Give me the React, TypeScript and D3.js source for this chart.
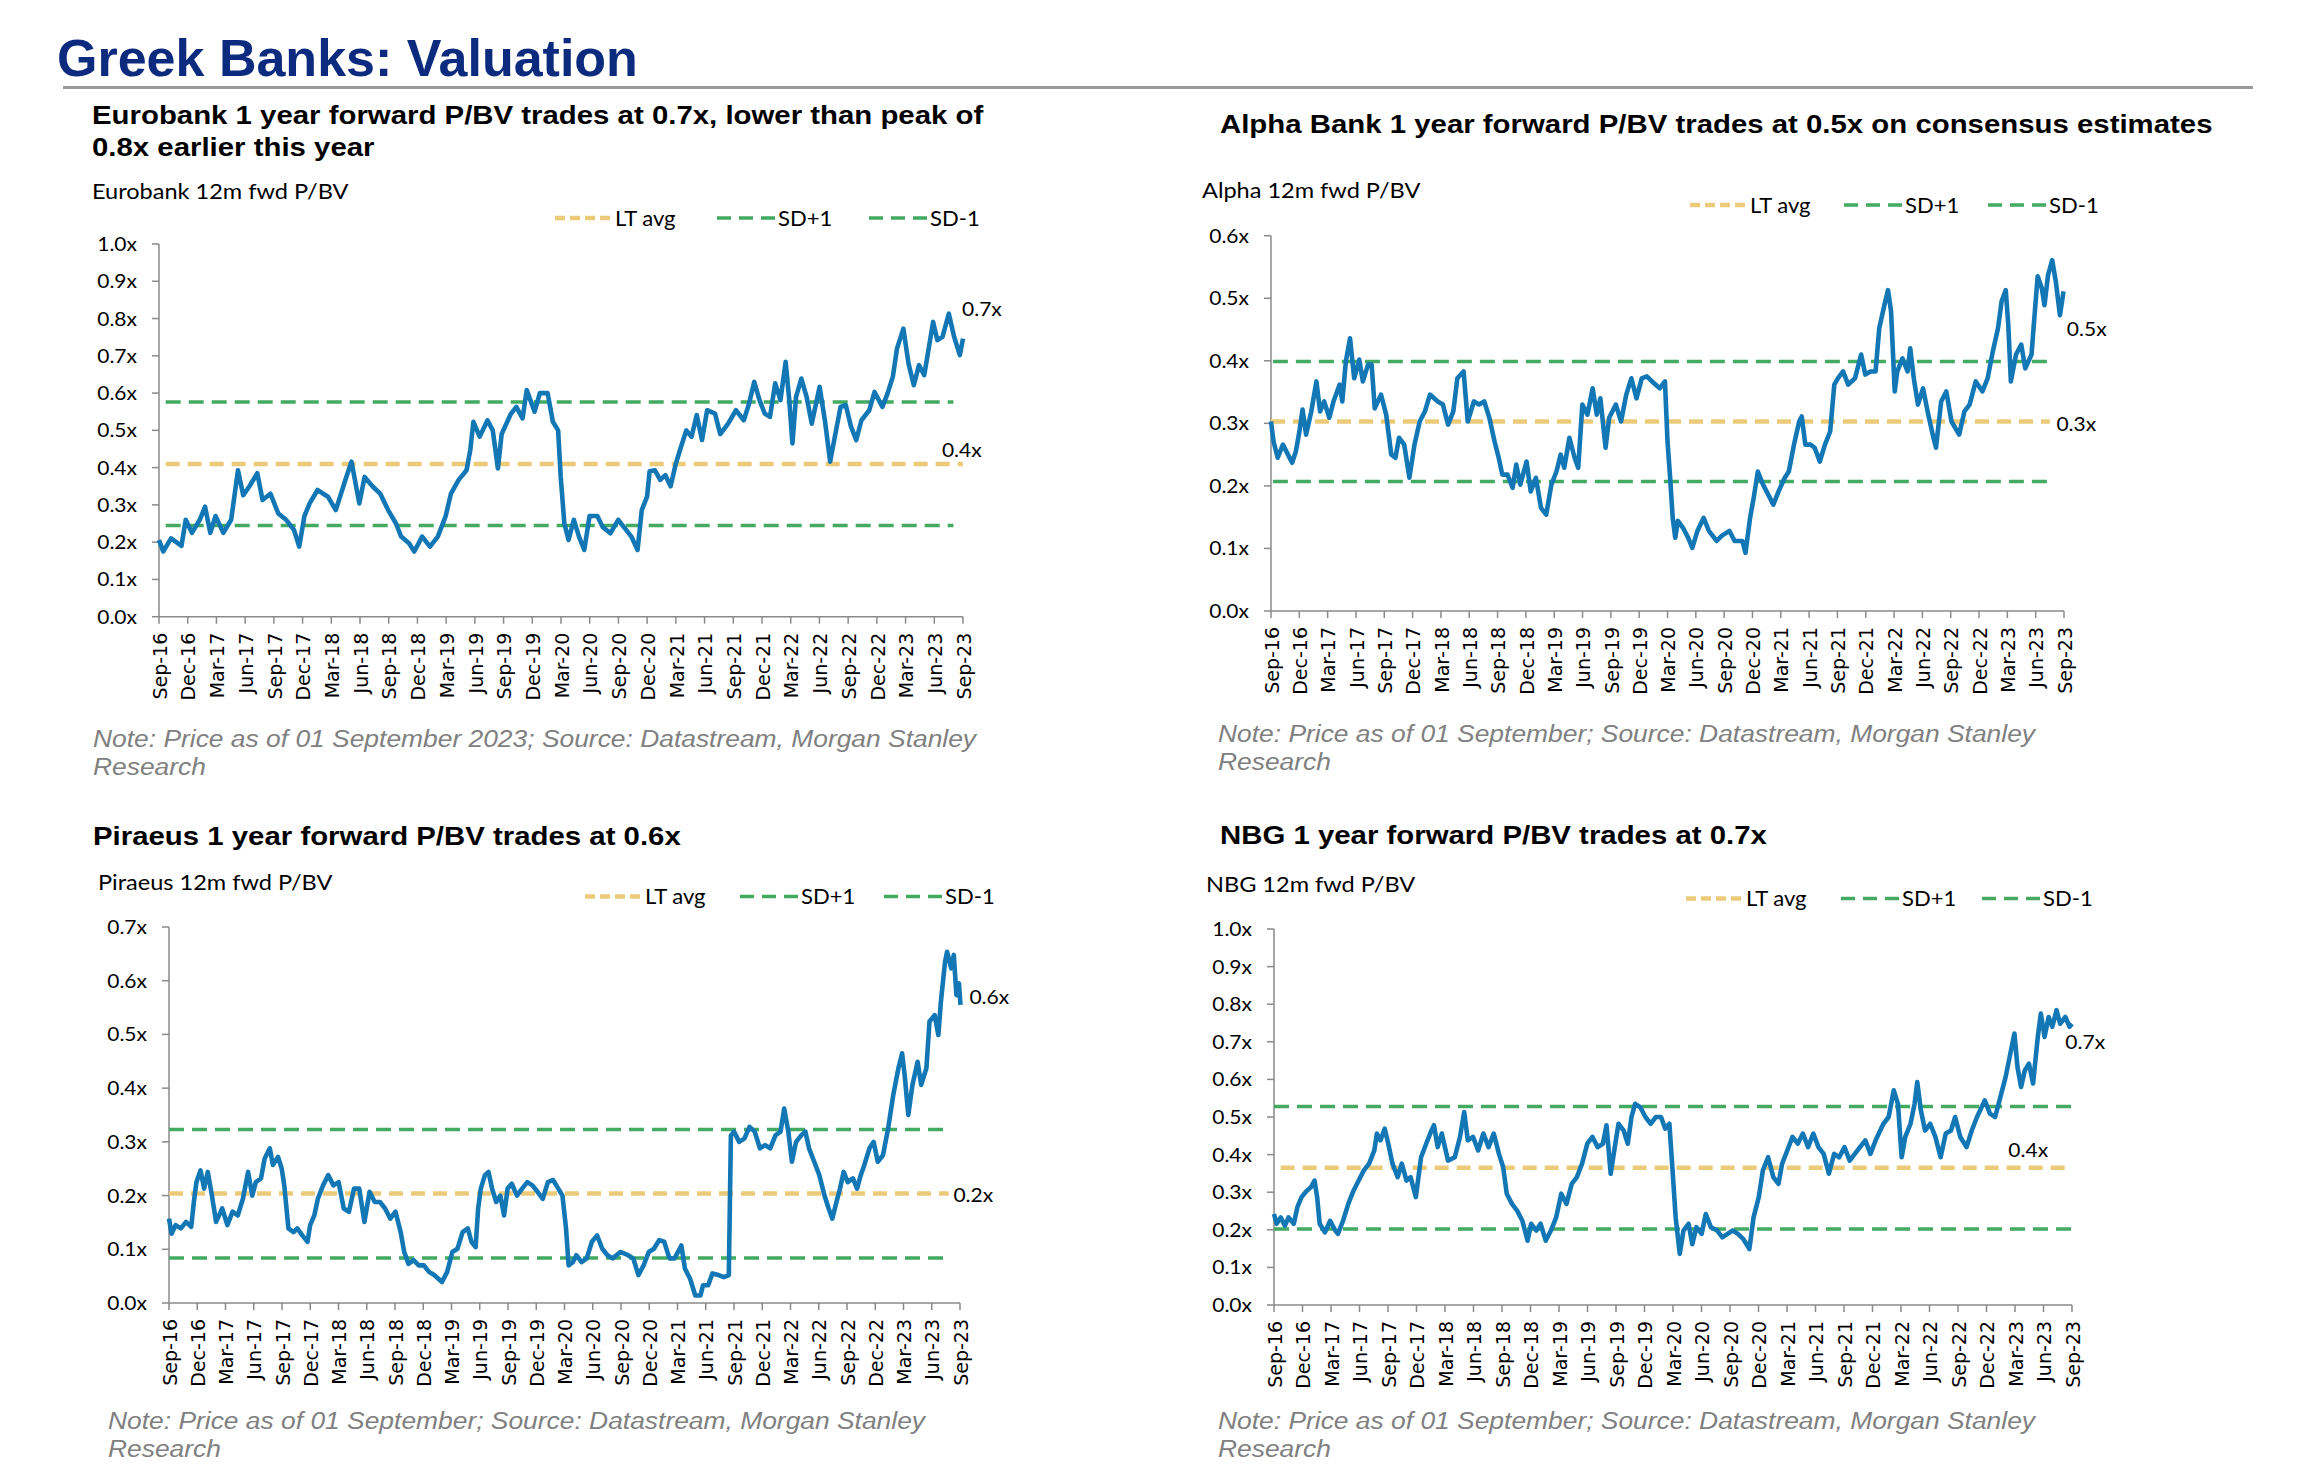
import React from "react";
import * as d3 from "d3";

const W = 2312;
const H = 1464;

// ---------- shared categories ----------
const quarterLabels = [
  "Sep-16", "Dec-16", "Mar-17", "Jun-17", "Sep-17", "Dec-17", "Mar-18", "Jun-18",
  "Sep-18", "Dec-18", "Mar-19", "Jun-19", "Sep-19", "Dec-19", "Mar-20", "Jun-20",
  "Sep-20", "Dec-20", "Mar-21", "Jun-21", "Sep-21", "Dec-21", "Mar-22", "Jun-22",
  "Sep-22", "Dec-22", "Mar-23", "Jun-23", "Sep-23",
];
const legendLabels = ["LT avg", "SD+1", "SD-1"];

// ---------- series: [months since Sep-16, P/BV] ----------
const eurobankSeries: [number, number][] = [
  [0, 0.206], [0.44, 0.175], [1.26, 0.21], [2.35, 0.19], [2.79, 0.26], [3.44, 0.225], [4.26, 0.26],
  [4.81, 0.295], [5.36, 0.225], [5.9, 0.27], [6.72, 0.225], [7.54, 0.26], [8.25, 0.393], [8.8, 0.326],
  [9.45, 0.35], [10.27, 0.385], [10.82, 0.313], [11.64, 0.33], [12.46, 0.277], [13.28, 0.26], [14.1, 0.233],
  [14.65, 0.188], [15.19, 0.27], [15.74, 0.304], [16.56, 0.34], [17.65, 0.322], [18.47, 0.286], [19.57, 0.375],
  [20.11, 0.416], [20.93, 0.304], [21.48, 0.375], [22.3, 0.35], [23.12, 0.33], [23.94, 0.286], [24.76, 0.25],
  [25.3, 0.215], [26.12, 0.197], [26.67, 0.175], [27.49, 0.215], [28.31, 0.188], [29.13, 0.215], [29.95, 0.27],
  [30.5, 0.33], [31.31, 0.367], [32.13, 0.393], [32.52, 0.447], [32.85, 0.523], [33.5, 0.483], [34.32, 0.527],
  [34.87, 0.5], [35.41, 0.398], [35.8, 0.49], [36.78, 0.545], [37.33, 0.563], [37.98, 0.532], [38.42, 0.608],
  [39.24, 0.55], [39.79, 0.6], [40.6, 0.6], [41.15, 0.523], [41.7, 0.5], [41.97, 0.375], [42.35, 0.25],
  [42.79, 0.206], [43.34, 0.26], [43.88, 0.215], [44.43, 0.179], [44.98, 0.27], [45.8, 0.27], [46.34, 0.241],
  [47.16, 0.224], [47.98, 0.26], [48.8, 0.233], [49.35, 0.215], [50.0, 0.179], [50.44, 0.286], [50.99, 0.322],
  [51.26, 0.39], [51.81, 0.393], [52.36, 0.367], [52.9, 0.38], [53.45, 0.35], [54.0, 0.411], [54.54, 0.456],
  [55.09, 0.5], [55.64, 0.483], [56.18, 0.541], [56.73, 0.474], [57.27, 0.554], [58.09, 0.545], [58.64, 0.49],
  [59.46, 0.518], [60.28, 0.554], [61.1, 0.527], [61.65, 0.572], [62.19, 0.63], [62.74, 0.581], [63.29, 0.545],
  [63.83, 0.536], [64.38, 0.626], [64.93, 0.581], [65.47, 0.684], [65.85, 0.581], [66.18, 0.465], [66.56, 0.59],
  [67.11, 0.639], [67.66, 0.59], [68.2, 0.518], [69.02, 0.617], [69.57, 0.527], [70.12, 0.416], [70.66, 0.49],
  [71.21, 0.563], [71.75, 0.568], [72.3, 0.51], [72.85, 0.474], [73.39, 0.527], [74.21, 0.554], [74.76, 0.603],
  [75.58, 0.563], [76.13, 0.6], [76.67, 0.644], [77.11, 0.72], [77.77, 0.773], [78.31, 0.679], [78.86, 0.621],
  [79.4, 0.675], [79.95, 0.648], [80.5, 0.733], [80.88, 0.791], [81.32, 0.742], [81.86, 0.751], [82.52, 0.813],
  [83.07, 0.751], [83.67, 0.702], [84, 0.746],
];

const alphaSeries: [number, number][] = [
  [0, 0.303], [0.27, 0.271], [0.71, 0.245], [1.26, 0.266], [1.8, 0.25], [2.24, 0.237], [2.63, 0.255],
  [3.01, 0.287], [3.34, 0.322], [3.72, 0.282], [4.27, 0.319], [4.81, 0.367], [5.2, 0.319], [5.63, 0.335],
  [6.18, 0.309], [6.62, 0.335], [7.27, 0.362], [7.55, 0.335], [7.93, 0.399], [8.37, 0.436], [8.81, 0.372],
  [9.35, 0.402], [9.73, 0.367], [10.28, 0.394], [10.66, 0.394], [10.99, 0.324], [11.65, 0.346], [12.2, 0.314],
  [12.74, 0.25], [13.18, 0.245], [13.56, 0.277], [14.11, 0.266], [14.66, 0.213], [15.2, 0.266], [15.75, 0.303],
  [16.3, 0.319], [16.84, 0.346], [17.66, 0.335], [18.21, 0.33], [18.76, 0.298], [19.31, 0.319], [19.74, 0.372],
  [20.4, 0.383], [20.84, 0.303], [21.49, 0.335], [22.04, 0.33], [22.59, 0.335], [23.13, 0.309], [23.68, 0.271],
  [24.12, 0.245], [24.5, 0.218], [25.05, 0.218], [25.59, 0.197], [25.98, 0.234], [26.41, 0.202], [27.07, 0.239],
  [27.51, 0.191], [28.06, 0.213], [28.6, 0.165], [29.15, 0.154], [29.7, 0.202], [30.24, 0.223], [30.68, 0.25],
  [31.06, 0.229], [31.61, 0.277], [32.16, 0.245], [32.54, 0.229], [32.98, 0.33], [33.52, 0.314], [34.07, 0.356],
  [34.51, 0.314], [34.89, 0.34], [35.44, 0.261], [35.82, 0.309], [36.53, 0.33], [37.08, 0.303], [37.63, 0.346],
  [38.17, 0.372], [38.72, 0.34], [39.27, 0.372], [39.81, 0.375], [40.36, 0.367], [41.18, 0.356], [41.73, 0.367],
  [42.0, 0.271], [42.28, 0.213], [42.55, 0.149], [42.82, 0.117], [43.1, 0.144], [43.64, 0.133], [44.19, 0.117],
  [44.63, 0.101], [45.17, 0.128], [45.83, 0.149], [46.38, 0.128], [47.2, 0.112], [47.74, 0.12], [48.56, 0.128],
  [49.11, 0.112], [49.93, 0.112], [50.26, 0.093], [50.75, 0.149], [51.13, 0.181], [51.57, 0.223], [52.12, 0.202],
  [52.67, 0.186], [53.21, 0.17], [53.76, 0.191], [54.42, 0.213], [54.85, 0.223], [55.4, 0.266], [55.95, 0.303],
  [56.22, 0.311], [56.6, 0.266], [57.15, 0.266], [57.59, 0.261], [58.13, 0.239], [58.68, 0.266], [59.23, 0.287],
  [59.67, 0.362], [60.05, 0.372], [60.6, 0.383], [61.14, 0.362], [61.86, 0.372], [62.51, 0.41], [62.95, 0.378],
  [63.5, 0.383], [64.04, 0.383], [64.43, 0.452], [64.97, 0.489], [65.36, 0.513], [65.68, 0.479], [66.07, 0.351],
  [66.34, 0.383], [66.89, 0.404], [67.43, 0.383], [67.71, 0.42], [68.09, 0.372], [68.53, 0.33], [69.07, 0.356],
  [69.62, 0.314], [70.17, 0.277], [70.44, 0.261], [70.99, 0.335], [71.53, 0.351], [72.08, 0.303], [72.9, 0.282],
  [73.45, 0.319], [74.0, 0.33], [74.65, 0.367], [75.36, 0.351], [75.91, 0.372], [76.46, 0.415], [77.01, 0.452],
  [77.39, 0.495], [77.83, 0.513], [78.1, 0.457], [78.37, 0.367], [78.92, 0.41], [79.47, 0.426], [79.9, 0.388],
  [80.56, 0.41], [80.83, 0.463], [81.21, 0.535], [81.65, 0.516], [81.93, 0.489], [82.31, 0.537], [82.75, 0.561],
  [83.13, 0.527], [83.57, 0.473], [83.95, 0.511],
];

const piraeusSeries: [number, number][] = [
  [0, 0.157], [0.27, 0.129], [0.71, 0.145], [1.26, 0.139], [1.81, 0.151], [2.36, 0.142], [2.64, 0.188],
  [2.91, 0.225], [3.35, 0.247], [3.73, 0.213], [4.12, 0.244], [4.56, 0.2], [5.0, 0.151], [5.65, 0.176],
  [6.2, 0.145], [6.75, 0.17], [7.3, 0.163], [7.85, 0.194], [8.4, 0.244], [8.84, 0.2], [9.22, 0.225],
  [9.77, 0.232], [10.16, 0.269], [10.71, 0.288], [11.03, 0.257], [11.58, 0.272], [11.97, 0.25], [12.24, 0.219],
  [12.68, 0.139], [13.23, 0.132], [13.62, 0.139], [14.16, 0.126], [14.71, 0.114], [14.99, 0.145], [15.43, 0.163],
  [15.81, 0.194], [16.36, 0.219], [16.91, 0.238], [17.46, 0.219], [18.01, 0.225], [18.56, 0.176], [19.11, 0.17],
  [19.65, 0.213], [20.2, 0.213], [20.75, 0.151], [21.3, 0.207], [21.85, 0.188], [22.4, 0.188], [22.95, 0.176],
  [23.5, 0.157], [24.05, 0.17], [24.6, 0.132], [24.98, 0.095], [25.42, 0.073], [25.97, 0.08], [26.52, 0.07],
  [27.07, 0.07], [27.61, 0.058], [28.16, 0.052], [28.99, 0.039], [29.54, 0.058], [30.09, 0.095], [30.63, 0.101],
  [31.18, 0.132], [31.73, 0.139], [32.12, 0.114], [32.56, 0.104], [32.83, 0.176], [33.11, 0.213], [33.55, 0.238],
  [33.93, 0.244], [34.31, 0.213], [34.75, 0.188], [35.19, 0.2], [35.58, 0.163], [35.96, 0.213], [36.4, 0.222],
  [36.95, 0.2], [37.5, 0.213], [38.05, 0.225], [38.59, 0.219], [39.14, 0.207], [39.69, 0.194], [40.24, 0.225],
  [40.79, 0.229], [41.34, 0.213], [41.78, 0.2], [42.16, 0.139], [42.44, 0.07], [42.88, 0.076], [43.26, 0.089],
  [43.81, 0.076], [44.36, 0.083], [44.91, 0.114], [45.46, 0.126], [46.01, 0.101], [46.56, 0.089], [47.1, 0.083],
  [47.93, 0.095], [48.75, 0.089], [49.3, 0.083], [49.85, 0.052], [50.4, 0.07], [50.95, 0.095], [51.5, 0.101],
  [52.05, 0.117], [52.59, 0.114], [53.14, 0.083], [53.69, 0.083], [54.41, 0.107], [54.79, 0.064], [55.34, 0.045],
  [55.89, 0.014], [56.44, 0.014], [56.71, 0.033], [57.26, 0.033], [57.7, 0.055], [58.36, 0.052], [58.91, 0.048],
  [59.45, 0.052], [59.67, 0.312], [60.0, 0.319], [60.55, 0.3], [61.1, 0.306], [61.65, 0.328], [62.2, 0.319],
  [62.75, 0.288], [63.3, 0.294], [63.85, 0.288], [64.4, 0.312], [64.94, 0.319], [65.33, 0.362], [65.77, 0.319],
  [66.15, 0.263], [66.59, 0.3], [67.14, 0.312], [67.58, 0.319], [67.97, 0.288], [68.52, 0.263], [69.06, 0.238],
  [69.61, 0.2], [70.05, 0.176], [70.44, 0.157], [70.88, 0.188], [71.26, 0.213], [71.64, 0.244], [72.08, 0.225],
  [72.63, 0.232], [73.07, 0.213], [73.46, 0.238], [73.84, 0.257], [74.39, 0.288], [74.83, 0.3], [75.27, 0.263],
  [75.82, 0.275], [76.37, 0.325], [76.91, 0.387], [77.46, 0.437], [77.85, 0.465], [78.12, 0.425], [78.51, 0.35],
  [78.95, 0.406], [79.5, 0.449], [79.88, 0.406], [80.43, 0.437], [80.76, 0.524], [81.31, 0.536], [81.7, 0.499],
  [81.97, 0.561], [82.41, 0.635], [82.63, 0.654], [83.07, 0.623], [83.34, 0.648], [83.62, 0.573], [83.89, 0.595],
  [84.05, 0.555],
];

const nbgSeries: [number, number][] = [
  [0, 0.242], [0.27, 0.216], [0.71, 0.233], [1.15, 0.211], [1.53, 0.233], [2.08, 0.216], [2.46, 0.26],
  [2.9, 0.287], [3.45, 0.304], [3.88, 0.313], [4.27, 0.331], [4.54, 0.287], [4.81, 0.216], [5.36, 0.193],
  [5.91, 0.224], [6.45, 0.198], [6.73, 0.189], [7.27, 0.224], [7.82, 0.269], [8.37, 0.304], [8.91, 0.331],
  [9.46, 0.358], [10.01, 0.376], [10.56, 0.411], [10.83, 0.456], [11.21, 0.438], [11.65, 0.469], [12.03, 0.429],
  [12.47, 0.376], [13.02, 0.34], [13.45, 0.376], [13.95, 0.331], [14.38, 0.34], [14.93, 0.287], [15.48, 0.393],
  [16.02, 0.429], [16.57, 0.464], [16.84, 0.478], [17.23, 0.42], [17.66, 0.456], [18.32, 0.384], [19.03, 0.393],
  [19.58, 0.447], [20.02, 0.513], [20.4, 0.438], [20.95, 0.447], [21.49, 0.411], [22.04, 0.456], [22.59, 0.42],
  [23.13, 0.456], [23.68, 0.402], [24.12, 0.367], [24.5, 0.296], [25.05, 0.269], [25.59, 0.251], [26.14, 0.224],
  [26.69, 0.171], [27.07, 0.216], [27.62, 0.198], [28.06, 0.216], [28.6, 0.171], [29.15, 0.198], [29.7, 0.233],
  [30.24, 0.296], [30.79, 0.269], [31.34, 0.322], [31.88, 0.34], [32.43, 0.376], [32.98, 0.429], [33.52, 0.447],
  [34.07, 0.42], [34.62, 0.429], [35.0, 0.478], [35.44, 0.349], [35.82, 0.411], [36.26, 0.482], [36.81, 0.464],
  [37.24, 0.429], [37.63, 0.5], [38.01, 0.535], [38.56, 0.526], [39.1, 0.5], [39.65, 0.482], [40.2, 0.5],
  [40.74, 0.5], [41.18, 0.469], [41.62, 0.482], [42.0, 0.34], [42.28, 0.233], [42.71, 0.136], [43.1, 0.198],
  [43.64, 0.216], [44.03, 0.162], [44.46, 0.207], [45.01, 0.189], [45.45, 0.242], [45.99, 0.207], [46.65, 0.198],
  [47.2, 0.18], [47.74, 0.189], [48.29, 0.198], [48.84, 0.189], [49.38, 0.176], [50.04, 0.149], [50.48, 0.233],
  [51.03, 0.287], [51.46, 0.358], [52.01, 0.393], [52.56, 0.34], [53.1, 0.322], [53.49, 0.376], [54.03, 0.411],
  [54.58, 0.447], [55.13, 0.429], [55.67, 0.456], [56.22, 0.42], [56.77, 0.456], [57.31, 0.42], [57.86, 0.402],
  [58.41, 0.349], [58.96, 0.402], [59.5, 0.393], [60.05, 0.42], [60.6, 0.384], [61.42, 0.411], [62.24, 0.438],
  [62.78, 0.402], [63.33, 0.438], [64.15, 0.482], [64.7, 0.5], [65.24, 0.571], [65.68, 0.535], [66.07, 0.393],
  [66.45, 0.447], [67.0, 0.482], [67.43, 0.535], [67.71, 0.593], [68.09, 0.518], [68.53, 0.464], [69.07, 0.482],
  [69.62, 0.447], [70.17, 0.393], [70.71, 0.456], [71.26, 0.464], [71.7, 0.5], [72.24, 0.447], [72.9, 0.42],
  [73.45, 0.464], [74.0, 0.5], [74.82, 0.544], [75.36, 0.509], [75.91, 0.5], [76.46, 0.553], [77.01, 0.606],
  [77.44, 0.66], [77.94, 0.722], [78.26, 0.633], [78.64, 0.58], [79.03, 0.624], [79.47, 0.642], [79.9, 0.589],
  [80.4, 0.713], [80.72, 0.775], [81.11, 0.713], [81.54, 0.766], [81.93, 0.74], [82.37, 0.784], [82.75, 0.748],
  [83.3, 0.766], [83.74, 0.74], [84.0, 0.748],
];

// ---------- reference levels: [LT avg, SD+1, SD-1] ----------
const eurobankLevels = [0.41, 0.576, 0.245];
const alphaLevels = [0.303, 0.399, 0.207];
const piraeusLevels = [0.204, 0.323, 0.084];
const nbgLevels = [0.365, 0.528, 0.202];

// ---------- end labels: [text, month anchor, value anchor] ----------
const eurobankTags: [string, number, number][] = [["0.7x", 83.9, 0.826], ["0.4x", 81.8, 0.447]];
const alphaTags: [string, number, number][] = [["0.5x", 84.3, 0.451], ["0.3x", 83.2, 0.299]];
const piraeusTags: [string, number, number][] = [["0.6x", 85.0, 0.57], ["0.2x", 83.3, 0.201]];
const nbgTags: [string, number, number][] = [["0.7x", 83.3, 0.699], ["0.4x", 77.3, 0.412]];

const noteFull = "Note: Price as of 01 September 2023; Source: Datastream, Morgan Stanley";
const noteShort = "Note: Price as of 01 September; Source: Datastream, Morgan Stanley";

// ---------- styles ----------
const BLUE = "#1277B4";
const YELLOW = "#EBCB7A";
const GREEN = "#43AA61";
const AXIS = "#8a8a8a";
const NAVY = "#0C2B7E";
const TITLE_FONT = "'Liberation Sans', Arial, sans-serif";
const LABEL_FONT = "Lato, 'Open Sans', sans-serif";
const TICK_FONT = "'DejaVu Sans', Verdana, sans-serif";

type Panel = {
  title: string[]; titleX: number; titleY: number;
  subtitle: string; subX: number; subY: number;
  legendY: number; legendX: number[];
  left: number; right: number; top: number; bottom: number; yMax: number;
  series: [number, number][]; levels: number[];
  ltExtent: [number, number]; sdExtent: [number, number];
  tags: [string, number, number][];
  note: string; noteX: number; noteY: number;
};

const panels: Panel[] = [
  {
    title: ["Eurobank 1 year forward P/BV trades at 0.7x, lower than peak of", "0.8x earlier this year"],
    titleX: 92, titleY: 124, subtitle: "Eurobank 12m fwd P/BV", subX: 92, subY: 199,
    legendY: 218, legendX: [555, 717, 869],
    left: 159, right: 963, top: 244, bottom: 616.7, yMax: 1.0,
    series: eurobankSeries, levels: eurobankLevels, ltExtent: [0.7, 84], sdExtent: [0.7, 83],
    tags: eurobankTags, note: noteFull, noteX: 93, noteY: 747,
  },
  {
    title: ["Alpha Bank 1 year forward P/BV trades at 0.5x on consensus estimates"],
    titleX: 1220, titleY: 133, subtitle: "Alpha 12m fwd P/BV", subX: 1202, subY: 198,
    legendY: 205, legendX: [1690, 1844, 1988],
    left: 1271, right: 2064, top: 235.7, bottom: 611, yMax: 0.6,
    series: alphaSeries, levels: alphaLevels, ltExtent: [0, 82.5], sdExtent: [0.2, 83],
    tags: alphaTags, note: noteShort, noteX: 1218, noteY: 742,
  },
  {
    title: ["Piraeus 1 year forward P/BV trades at 0.6x"],
    titleX: 93, titleY: 845, subtitle: "Piraeus 12m fwd P/BV", subX: 98, subY: 890,
    legendY: 896.5, legendX: [585, 740, 884],
    left: 169, right: 960, top: 927, bottom: 1303, yMax: 0.7,
    series: piraeusSeries, levels: piraeusLevels, ltExtent: [0, 82.8], sdExtent: [0, 82.8],
    tags: piraeusTags, note: noteShort, noteX: 108, noteY: 1429,
  },
  {
    title: ["NBG 1 year forward P/BV trades at 0.7x"],
    titleX: 1220, titleY: 844, subtitle: "NBG 12m fwd P/BV", subX: 1206, subY: 892,
    legendY: 898.5, legendX: [1686, 1841, 1982],
    left: 1274, right: 2072, top: 929, bottom: 1305, yMax: 1.0,
    series: nbgSeries, levels: nbgLevels, ltExtent: [0.7, 84], sdExtent: [0, 84],
    tags: nbgTags, note: noteShort, noteX: 1218, noteY: 1429,
  },
];

function SText(props: any) {
  const { x, y, sx = 1, children, ...rest } = props;
  return (
    <text transform={`translate(${x},${y}) scale(${sx},1)`} {...rest}>
      {children}
    </text>
  );
}

function ChartPanel({ p }: { p: Panel }) {
  const x = d3.scaleLinear().domain([0, 84]).range([p.left, p.right]);
  const y = d3.scaleLinear().domain([0, p.yMax]).range([p.bottom, p.top]);
  const line = d3
    .line<[number, number]>()
    .x((d) => x(d[0]))
    .y((d) => y(d[1]))
    .curve(d3.curveLinear);
  const yTicks = d3.range(0, Math.round(p.yMax * 10) + 1).map((i) => i / 10);
  const fmt = d3.format(".1f");

  const legendStyles = [
    { color: YELLOW, dash: "10 5", w: 4.5, len: 57 },
    { color: GREEN, dash: "14 8", w: 3.5, len: 58 },
    { color: GREEN, dash: "14 8", w: 3.5, len: 58 },
  ];

  return (
    <g>
      {p.title.map((t, i) => (
        <SText key={i} x={p.titleX} y={p.titleY + i * 32} sx={1.13}
          fontFamily={TITLE_FONT} fontWeight="bold" fontSize={26} fill="#000">
          {t}
        </SText>
      ))}
      <SText x={p.subX} y={p.subY} sx={1.07} fontFamily={LABEL_FONT} fontSize={22} fill="#000">
        {p.subtitle}
      </SText>

      {legendLabels.map((lab, i) => {
        const s = legendStyles[i];
        const lx = p.legendX[i];
        return (
          <g key={lab}>
            <line x1={lx} x2={lx + s.len} y1={p.legendY} y2={p.legendY}
              stroke={s.color} strokeWidth={s.w} strokeDasharray={s.dash} />
            <SText x={lx + s.len + 3} y={p.legendY + 7.5} sx={1.05}
              fontFamily={LABEL_FONT} fontSize={21} fill="#000">
              {lab}
            </SText>
          </g>
        );
      })}

      {/* axes */}
      <line x1={p.left} x2={p.left} y1={p.top} y2={p.bottom} stroke={AXIS} strokeWidth={1.5} />
      <line x1={p.left} x2={p.right} y1={p.bottom} y2={p.bottom} stroke={AXIS} strokeWidth={1.5} />
      {yTicks.map((t) => (
        <g key={t}>
          <line x1={p.left - 7} x2={p.left} y1={y(t)} y2={y(t)} stroke={AXIS} strokeWidth={1.5} />
          <SText x={p.left - 22} y={y(t) + 7} sx={1.05} textAnchor="end"
            fontFamily={LABEL_FONT} fontSize={20} fill="#000">
            {fmt(t) + "x"}
          </SText>
        </g>
      ))}
      {quarterLabels.map((q, i) => {
        const xx = x(i * 3);
        return (
          <g key={q}>
            <line x1={xx} x2={xx} y1={p.bottom} y2={p.bottom + 7} stroke={AXIS} strokeWidth={1.5} />
            <text transform={`translate(${xx + 1},${p.bottom + 16}) rotate(-90)`} dy="0.35em"
              textAnchor="end" fontFamily={TICK_FONT} fontSize={19} fill="#000">
              {q}
            </text>
          </g>
        );
      })}

      {/* reference levels */}
      <line x1={x(p.ltExtent[0])} x2={x(p.ltExtent[1])} y1={y(p.levels[0])} y2={y(p.levels[0])}
        stroke={YELLOW} strokeWidth={4.5} strokeDasharray="14 8" />
      {[1, 2].map((k) => (
        <line key={k} x1={x(p.sdExtent[0])} x2={x(p.sdExtent[1])} y1={y(p.levels[k])} y2={y(p.levels[k])}
          stroke={GREEN} strokeWidth={3.5} strokeDasharray="15 8" />
      ))}

      <path d={line(p.series) || ""} fill="none" stroke={BLUE} strokeWidth={4.6} strokeLinejoin="round" />

      {p.tags.map(([t, m, v]) => (
        <SText key={t} x={x(m)} y={y(v) + 7} sx={1.05} fontFamily={LABEL_FONT} fontSize={20} fill="#000">
          {t}
        </SText>
      ))}

      {/* note */}
      <SText x={p.noteX} y={p.noteY} sx={1.1} fontFamily={TITLE_FONT} fontStyle="italic" fontSize={24} fill="#808080">
        {p.note}
      </SText>
      <SText x={p.noteX} y={p.noteY + 28} sx={1.1} fontFamily={TITLE_FONT} fontStyle="italic" fontSize={24} fill="#808080">
        Research
      </SText>
    </g>
  );
}

export default function App() {
  return (
    <svg width={W} height={H} viewBox={`0 0 ${W} ${H}`}
      style={{ position: "absolute", left: 0, top: 0, background: "#fff" }}>
      <rect x={0} y={0} width={W} height={H} fill="#fff" />
      <text x={57} y={76} fontFamily={TITLE_FONT} fontWeight="bold" fontSize={52} fill={NAVY}>
        Greek Banks: Valuation
      </text>
      <line x1={63} x2={2253} y1={87.5} y2={87.5} stroke="#9a9a9a" strokeWidth={3} />
      {panels.map((p, i) => (
        <ChartPanel key={i} p={p} />
      ))}
    </svg>
  );
}
